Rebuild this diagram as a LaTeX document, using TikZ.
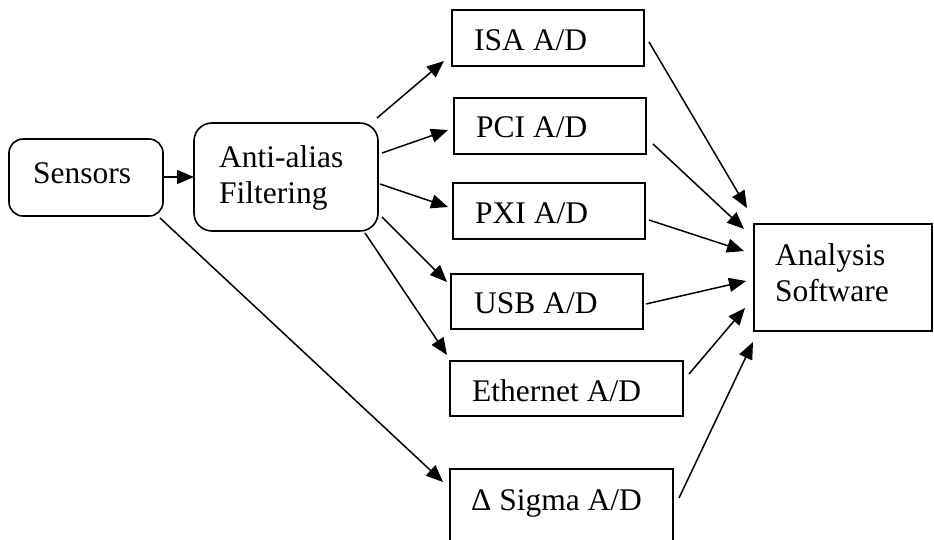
\documentclass[tikz,border=0pt]{standalone}
\usepackage{fontspec}
\setmainfont{Liberation Serif}
\usetikzlibrary{arrows.meta}
\begin{document}
\begin{tikzpicture}[x=1pt,y=-1pt,
  box/.style={draw=black, line width=1.6pt, inner sep=0pt, fill=none},
  rbox/.style={box, rounded corners=14pt},
  txt/.style={anchor=base west, inner sep=0pt, font=\fontsize{31.5}{36}\selectfont},
  conn/.style={line width=1.5pt, -{Triangle[length=17pt,width=14pt]}}]
\useasboundingbox (0,0) rectangle (934,539);
\clip (0,0) rectangle (934,539);
% boxes
\node[rbox, minimum width=154pt, minimum height=77pt] (sens) at (86,177.5) {};
\node[rbox, rounded corners=18pt, minimum width=184pt, minimum height=108pt] (anti) at (286,177) {};
\node[box, minimum width=192pt, minimum height=56pt] (isa) at (548,38) {};
\node[box, minimum width=192pt, minimum height=56pt] (pci) at (550,126) {};
\node[box, minimum width=192pt, minimum height=56pt] (pxi) at (549,211) {};
\node[box, minimum width=192pt, minimum height=55pt] (usb) at (547,301.5) {};
\node[box, minimum width=233pt, minimum height=55pt] (eth) at (566.5,388.5) {};
\node[box, minimum width=223pt, minimum height=90pt] (sig) at (561.5,514) {};
\node[box, minimum width=178pt, minimum height=107pt] (ana) at (843,277.5) {};
% texts
\node[txt] (senst) at (33,183) {Sensors};
\node[txt] (antit1) at (219,167) {Anti-alias};
\node[txt] (antit2) at (219,203) {Filtering};
\node[txt] (isat) at (474,50) {ISA A/D};
\node[txt] (pcit) at (476,137) {PCI A/D};
\node[txt] (pxit) at (475,223) {PXI A/D};
\node[txt] (usbt) at (474,313) {USB A/D};
\node[txt] (etht) at (472,401) {Ethernet A/D};
\node[txt] (sigt) at (471,510) {Δ Sigma A/D};
\node[txt] (anat1) at (775,265) {Analysis};
\node[txt] (anat2) at (775,301) {Software};
% connector endpoints
\coordinate (a0) at (163,177); \coordinate (a1) at (194,177);
\coordinate (b0) at (377,118); \coordinate (b1) at (444,61);
\coordinate (c0) at (382,153); \coordinate (c1) at (448,130);
\coordinate (d0) at (380,184); \coordinate (d1) at (448,207);
\coordinate (e0) at (382,217); \coordinate (e1) at (447,282);
\coordinate (f0) at (365,233); \coordinate (f1) at (447,355);
\coordinate (g0) at (160,218); \coordinate (g1) at (443,482);
\coordinate (h0) at (649,42);  \coordinate (h1) at (747,208);
\coordinate (i0) at (653,144); \coordinate (i1) at (744,229);
\coordinate (j0) at (649,220); \coordinate (j1) at (744,251);
\coordinate (k0) at (646,304); \coordinate (k1) at (746,281);
\coordinate (l0) at (689,374); \coordinate (l1) at (745,308);
\coordinate (m0) at (679,498); \coordinate (m1) at (753,342);
\draw[conn] (a0) -- (a1);
\draw[conn] (b0) -- (b1);
\draw[conn] (c0) -- (c1);
\draw[conn] (d0) -- (d1);
\draw[conn] (e0) -- (e1);
\draw[conn] (f0) -- (f1);
\draw[conn] (g0) -- (g1);
\draw[conn] (h0) -- (h1);
\draw[conn] (i0) -- (i1);
\draw[conn] (j0) -- (j1);
\draw[conn] (k0) -- (k1);
\draw[conn] (l0) -- (l1);
\draw[conn] (m0) -- (m1);
\end{tikzpicture}
\end{document}
